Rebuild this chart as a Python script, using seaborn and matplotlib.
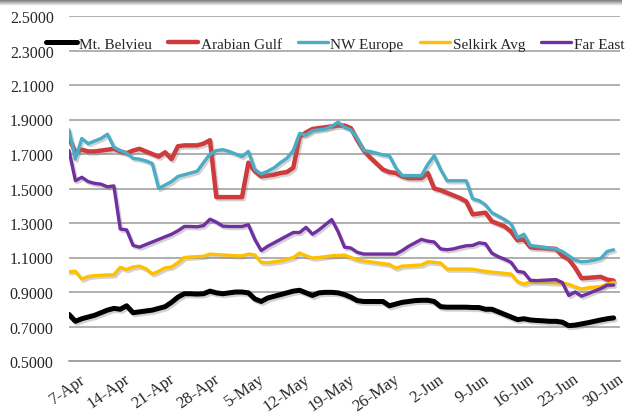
import numpy as np
import pandas as pd
import matplotlib
matplotlib.use("Agg")
import matplotlib.pyplot as plt
import matplotlib.dates as mdates
import matplotlib.patheffects as pe
import matplotlib.transforms as mtrans
from matplotlib.lines import Line2D
import seaborn as sns

# daily prices, 7-Apr to 1-Jul
dates = pd.date_range("2014-04-07", "2014-07-01", freq="D")

mt_belvieu = [0.77, 0.73, 0.745, 0.755, 0.765, 0.78, 0.795, 0.805, 0.80, 0.82,
              0.78, 0.785, 0.79, 0.795, 0.805, 0.815, 0.84, 0.87, 0.89, 0.89,
              0.888, 0.89, 0.905, 0.895, 0.89, 0.895, 0.90, 0.90, 0.895, 0.86,
              0.845, 0.865, 0.875, 0.885, 0.895, 0.905, 0.91, 0.895, 0.88, 0.895,
              0.898, 0.898, 0.895, 0.885, 0.87, 0.85, 0.845, 0.845, 0.845, 0.845,
              0.82, 0.83, 0.84, 0.845, 0.85, 0.852, 0.852, 0.845, 0.815, 0.812,
              0.812, 0.812, 0.812, 0.81, 0.81, 0.80, 0.80, 0.785, 0.77, 0.755,
              0.74, 0.745, 0.738, 0.735, 0.733, 0.73, 0.73, 0.725, 0.705, 0.708,
              0.715, 0.722, 0.73, 0.738, 0.745, 0.75]

arabian_gulf = [1.79, 1.71, 1.725, 1.715, 1.715, 1.72, 1.725, 1.73, 1.715, 1.705,
                1.72, 1.73, 1.715, 1.70, 1.685, 1.71, 1.67, 1.745, 1.75, 1.75,
                1.75, 1.76, 1.78, 1.45, 1.45, 1.45, 1.45, 1.45, 1.65, 1.60,
                1.57, 1.575, 1.58, 1.59, 1.595, 1.62, 1.80, 1.825, 1.845, 1.85,
                1.855, 1.86, 1.865, 1.865, 1.85, 1.78, 1.72, 1.68, 1.645, 1.61,
                1.595, 1.59, 1.57, 1.56, 1.56, 1.56, 1.59, 1.50, 1.49, 1.475,
                1.46, 1.445, 1.425, 1.35, 1.355, 1.36, 1.31, 1.295, 1.28, 1.25,
                1.20, 1.205, 1.16, 1.155, 1.155, 1.152, 1.15, 1.11, 1.09, 1.04,
                0.98, 0.982, 0.985, 0.988, 0.972, 0.966]

nw_europe = [1.84, 1.67, 1.79, 1.76, 1.775, 1.79, 1.815, 1.74, 1.72, 1.705,
             1.675, 1.67, 1.66, 1.645, 1.50, 1.52, 1.54, 1.57, 1.58, 1.59,
             1.60, 1.65, 1.70, 1.72, 1.725, 1.715, 1.70, 1.685, 1.715, 1.61,
             1.585, 1.60, 1.62, 1.65, 1.675, 1.72, 1.82, 1.81, 1.835, 1.84,
             1.845, 1.86, 1.885, 1.855, 1.84, 1.79, 1.72, 1.715, 1.705, 1.695,
             1.69, 1.62, 1.575, 1.575, 1.575, 1.575, 1.64, 1.69, 1.61, 1.545,
             1.545, 1.545, 1.545, 1.44, 1.43, 1.405, 1.36, 1.34, 1.32, 1.295,
             1.215, 1.235, 1.17, 1.165, 1.16, 1.155, 1.15, 1.135, 1.11, 1.085,
             1.075, 1.078, 1.085, 1.095, 1.135, 1.145]

selkirk_avg = [1.018, 1.02, 0.975, 0.99, 0.995, 0.997, 0.999, 1.00, 1.043, 1.03,
               1.045, 1.05, 1.035, 1.005, 1.02, 1.04, 1.045, 1.07, 1.10, 1.103,
               1.105, 1.107, 1.12, 1.117, 1.115, 1.113, 1.11, 1.11, 1.12, 1.115,
               1.072, 1.07, 1.075, 1.08, 1.09, 1.10, 1.126, 1.11, 1.097, 1.10,
               1.105, 1.11, 1.112, 1.114, 1.10, 1.087, 1.08, 1.075, 1.07, 1.065,
               1.06, 1.038, 1.05, 1.052, 1.055, 1.057, 1.075, 1.072, 1.068, 1.033,
               1.033, 1.033, 1.033, 1.032, 1.025, 1.02, 1.015, 1.012, 1.008, 1.004,
               0.96, 0.946, 0.958, 0.958, 0.957, 0.955, 0.953, 0.952, 0.945, 0.93,
               0.917, 0.925, 0.928, 0.932, 0.945, 0.956]

far_east = [1.72, 1.545, 1.565, 1.54, 1.53, 1.525, 1.51, 1.515, 1.265, 1.26,
            1.17, 1.16, 1.175, 1.19, 1.205, 1.22, 1.235, 1.255, 1.28, 1.28,
            1.278, 1.285, 1.322, 1.305, 1.282, 1.28, 1.28, 1.28, 1.29, 1.205,
            1.14, 1.165, 1.185, 1.205, 1.225, 1.245, 1.245, 1.275, 1.235, 1.26,
            1.29, 1.32, 1.25, 1.16, 1.155, 1.13, 1.12, 1.12, 1.12, 1.12,
            1.12, 1.12, 1.14, 1.165, 1.185, 1.205, 1.195, 1.19, 1.15, 1.145,
            1.15, 1.16, 1.168, 1.17, 1.185, 1.18, 1.125, 1.105, 1.09, 1.072,
            1.02, 1.014, 0.968, 0.966, 0.968, 0.97, 0.972, 0.955, 0.88, 0.90,
            0.876, 0.89, 0.905, 0.92, 0.94, 0.94]

series_names = ["Mt. Belvieu", "Arabian Gulf", "NW Europe", "Selkirk Avg", "Far East"]
colors = ["#000000", "#CF3B3C", "#4BACC6", "#FFC000", "#7030A0"]
widths = [3.6, 3.2, 2.4, 2.4, 2.4]

df = pd.DataFrame({"date": dates,
                   "Mt. Belvieu": mt_belvieu,
                   "Arabian Gulf": arabian_gulf,
                   "NW Europe": nw_europe,
                   "Selkirk Avg": selkirk_avg,
                   "Far East": far_east})
long_df = df.melt(id_vars="date", var_name="series", value_name="price")

sns.set_style("white")
plt.rcParams["font.family"] = ["Liberation Serif", "DejaVu Serif"]

fig = plt.figure(figsize=(6.28, 4.14), dpi=100)
ax = fig.add_axes([69 / 628, 1 - 362 / 414, 551 / 628, 345 / 414])

shadow = [pe.SimpleLineShadow(offset=(1.2, -1.5), shadow_color="gray", alpha=0.35), pe.Normal()]
for name, col, lw in zip(series_names, colors, widths):
    sns.lineplot(data=long_df[long_df["series"] == name], x="date", y="price",
                 color=col, linewidth=lw, ax=ax, legend=False, zorder=3,
                 path_effects=shadow)

ax.set_ylim(0.5, 2.5)
yt = np.round(np.arange(0.5, 2.51, 0.2), 1)
ax.set_yticks(yt)
ax.set_yticklabels([f"{v:.4f}" for v in yt], fontsize=11.5)
ax.tick_params(axis="y", length=0, pad=11)
for v in yt[1:]:
    ax.axhline(v, color="#9a9a9a", linewidth=1.1, zorder=1)

ax.set_xlim(pd.Timestamp("2014-04-07"), pd.Timestamp("2014-07-02"))
ax.xaxis.set_major_locator(mdates.WeekdayLocator(byweekday=mdates.MO))
ax.xaxis.set_minor_locator(mdates.DayLocator())
ax.xaxis.set_major_formatter(mdates.DateFormatter("%-d-%b"))
ax.tick_params(axis="x", which="major", direction="inout", length=8, width=1,
               color="#888888", labelsize=12, pad=0)
ax.tick_params(axis="x", which="minor", direction="out", length=3, width=0.8,
               color="#888888")
shift = mtrans.ScaledTranslation(10 / 100, -4 / 100, fig.dpi_scale_trans)
for lab in ax.get_xticklabels():
    lab.set_rotation(35)
    lab.set_ha("right")
    lab.set_rotation_mode("anchor")
    lab.set_transform(lab.get_transform() + shift)

for s in ["top", "right", "left"]:
    ax.spines[s].set_visible(False)
ax.spines["bottom"].set_color("#888888")
ax.spines["bottom"].set_linewidth(1.1)
ax.set_xlabel("")
ax.set_ylabel("")

handles = [Line2D([0], [0], color=c, linewidth=lw) for c, lw in zip(colors, widths)]
ax.legend(handles, series_names, ncol=5, loc="center", bbox_to_anchor=(0.483, 0.919),
          frameon=False, fontsize=11, handlelength=2.0, handletextpad=0.15,
          columnspacing=1.05, borderaxespad=0, borderpad=0)

# screenshot shadow along the top edge
top = fig.add_axes([0, 1 - 7 / 414, 622 / 628, 7 / 414])
top.imshow(np.linspace(0.4, 1.0, 20).reshape(-1, 1), aspect="auto", cmap="gray",
           vmin=0, vmax=1)
top.axis("off")

fig.savefig("out.png", dpi=100)
